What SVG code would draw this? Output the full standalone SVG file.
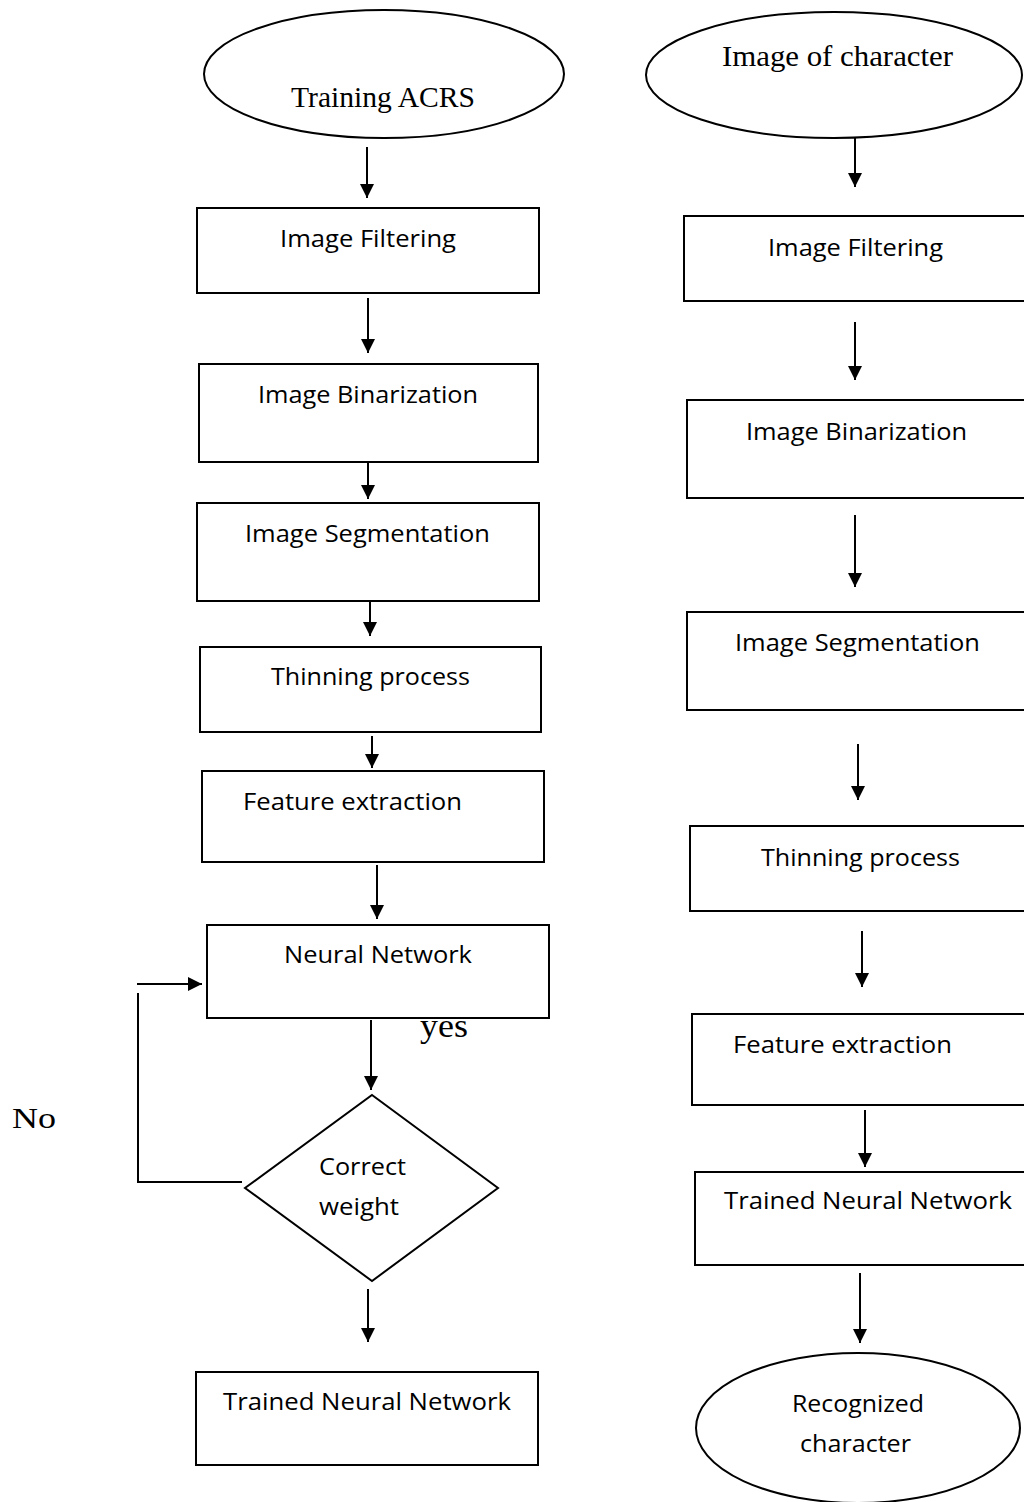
<svg xmlns="http://www.w3.org/2000/svg" width="1024" height="1502" viewBox="0 0 1024 1502">
<style>
.shape{fill:#fff;stroke:#000;stroke-width:2}
.lbl{font-family:"Open Sans","Liberation Sans",sans-serif;font-size:24px;fill:#000}
.ser{font-family:"Liberation Serif","DejaVu Serif",serif;fill:#000}
.conn{fill:none;stroke:#000;stroke-width:2}
</style>
<defs>
<marker id="ah" viewBox="0 0 14 14" refX="14" refY="7" markerWidth="14" markerHeight="14" markerUnits="userSpaceOnUse" orient="auto">
<path d="M0,0 L14,7 L0,14 z" fill="#000"/>
</marker>
</defs>
<rect width="1024" height="1502" fill="#fff"/>

<g id="connectors">
<path class="conn" marker-end="url(#ah)" d="M367 147 V198"/>
<path class="conn" marker-end="url(#ah)" d="M368 298 V353"/>
<path class="conn" marker-end="url(#ah)" d="M368 463 V499"/>
<path class="conn" marker-end="url(#ah)" d="M370 597 V636"/>
<path class="conn" marker-end="url(#ah)" d="M372 736 V768"/>
<path class="conn" marker-end="url(#ah)" d="M377 865 V919"/>
<path class="conn" marker-end="url(#ah)" d="M371 1020 V1090"/>
<path class="conn" marker-end="url(#ah)" d="M137 984 H202"/>
<path class="conn" d="M138 993 V1182 M137 1182 H242"/>
<path class="conn" marker-end="url(#ah)" d="M368 1289 V1342"/>

<path class="conn" marker-end="url(#ah)" d="M855 133 V187"/>
<path class="conn" marker-end="url(#ah)" d="M855 322 V380"/>
<path class="conn" marker-end="url(#ah)" d="M855 515 V587"/>
<path class="conn" marker-end="url(#ah)" d="M858 744 V800"/>
<path class="conn" marker-end="url(#ah)" d="M862 931 V987"/>
<path class="conn" marker-end="url(#ah)" d="M865 1110 V1167"/>
<path class="conn" marker-end="url(#ah)" d="M860 1273 V1343"/>
</g>

<g id="n-training">
<ellipse class="shape" cx="384" cy="74" rx="180" ry="64"/>
<text class="ser" x="291" y="107" font-size="29" textLength="184" lengthAdjust="spacingAndGlyphs">Training ACRS</text>
</g>
<g id="n-filter-l">
<rect class="shape" x="197" y="208" width="342" height="85"/>
<text class="lbl" x="280" y="247" textLength="176" lengthAdjust="spacingAndGlyphs">Image Filtering</text>
</g>
<g id="n-binar-l">
<rect class="shape" x="199" y="364" width="339" height="98"/>
<text class="lbl" x="258" y="403" textLength="220" lengthAdjust="spacingAndGlyphs">Image Binarization</text>
</g>
<g id="n-seg-l">
<rect class="shape" x="197" y="503" width="342" height="98"/>
<text class="lbl" x="245" y="542" textLength="245" lengthAdjust="spacingAndGlyphs">Image Segmentation</text>
</g>
<g id="n-thin-l">
<rect class="shape" x="200" y="647" width="341" height="85"/>
<text class="lbl" x="271" y="685" textLength="199" lengthAdjust="spacingAndGlyphs">Thinning process</text>
</g>
<g id="n-feat-l">
<rect class="shape" x="202" y="771" width="342" height="91"/>
<text class="lbl" x="243" y="810" textLength="219" lengthAdjust="spacingAndGlyphs">Feature extraction</text>
</g>
<g id="n-nn">
<rect class="shape" x="207" y="925" width="342" height="93"/>
<text class="lbl" x="284" y="963" textLength="188" lengthAdjust="spacingAndGlyphs">Neural Network</text>
</g>
<g id="n-correct">
<polygon class="shape" points="372,1095 498,1188 372,1281 245,1188"/>
<text class="lbl" x="319" y="1175" textLength="87" lengthAdjust="spacingAndGlyphs">Correct</text>
<text class="lbl" x="319" y="1215" textLength="80" lengthAdjust="spacingAndGlyphs">weight</text>
</g>
<g id="n-trained-l">
<rect class="shape" x="196" y="1372" width="342" height="93"/>
<text class="lbl" x="223" y="1410" textLength="288" lengthAdjust="spacingAndGlyphs">Trained Neural Network</text>
</g>
<text class="ser" x="420" y="1037" font-size="34" textLength="48" lengthAdjust="spacingAndGlyphs">yes</text>
<text class="ser" x="12" y="1128" font-size="30" textLength="44" lengthAdjust="spacingAndGlyphs">No</text>

<g id="n-image">
<ellipse class="shape" cx="834" cy="75" rx="188" ry="63"/>
<text class="ser" x="722" y="66" font-size="30" textLength="231" lengthAdjust="spacingAndGlyphs">Image of character</text>
</g>
<g id="n-filter-r">
<rect class="shape" x="684" y="216" width="346" height="85"/>
<text class="lbl" x="768" y="256" textLength="175" lengthAdjust="spacingAndGlyphs">Image Filtering</text>
</g>
<g id="n-binar-r">
<rect class="shape" x="687" y="400" width="343" height="98"/>
<text class="lbl" x="746" y="440" textLength="221" lengthAdjust="spacingAndGlyphs">Image Binarization</text>
</g>
<g id="n-seg-r">
<rect class="shape" x="687" y="612" width="343" height="98"/>
<text class="lbl" x="735" y="651" textLength="245" lengthAdjust="spacingAndGlyphs">Image Segmentation</text>
</g>
<g id="n-thin-r">
<rect class="shape" x="690" y="826" width="340" height="85"/>
<text class="lbl" x="761" y="866" textLength="199" lengthAdjust="spacingAndGlyphs">Thinning process</text>
</g>
<g id="n-feat-r">
<rect class="shape" x="692" y="1014" width="338" height="91"/>
<text class="lbl" x="733" y="1053" textLength="219" lengthAdjust="spacingAndGlyphs">Feature extraction</text>
</g>
<g id="n-trained-r">
<rect class="shape" x="695" y="1172" width="335" height="93"/>
<text class="lbl" x="724" y="1209" textLength="288" lengthAdjust="spacingAndGlyphs">Trained Neural Network</text>
</g>
<g id="n-recog">
<ellipse class="shape" cx="858" cy="1428" rx="162" ry="75"/>
<text class="lbl" x="792" y="1412" textLength="132" lengthAdjust="spacingAndGlyphs">Recognized</text>
<text class="lbl" x="800" y="1452" textLength="111" lengthAdjust="spacingAndGlyphs">character</text>
</g>
</svg>
